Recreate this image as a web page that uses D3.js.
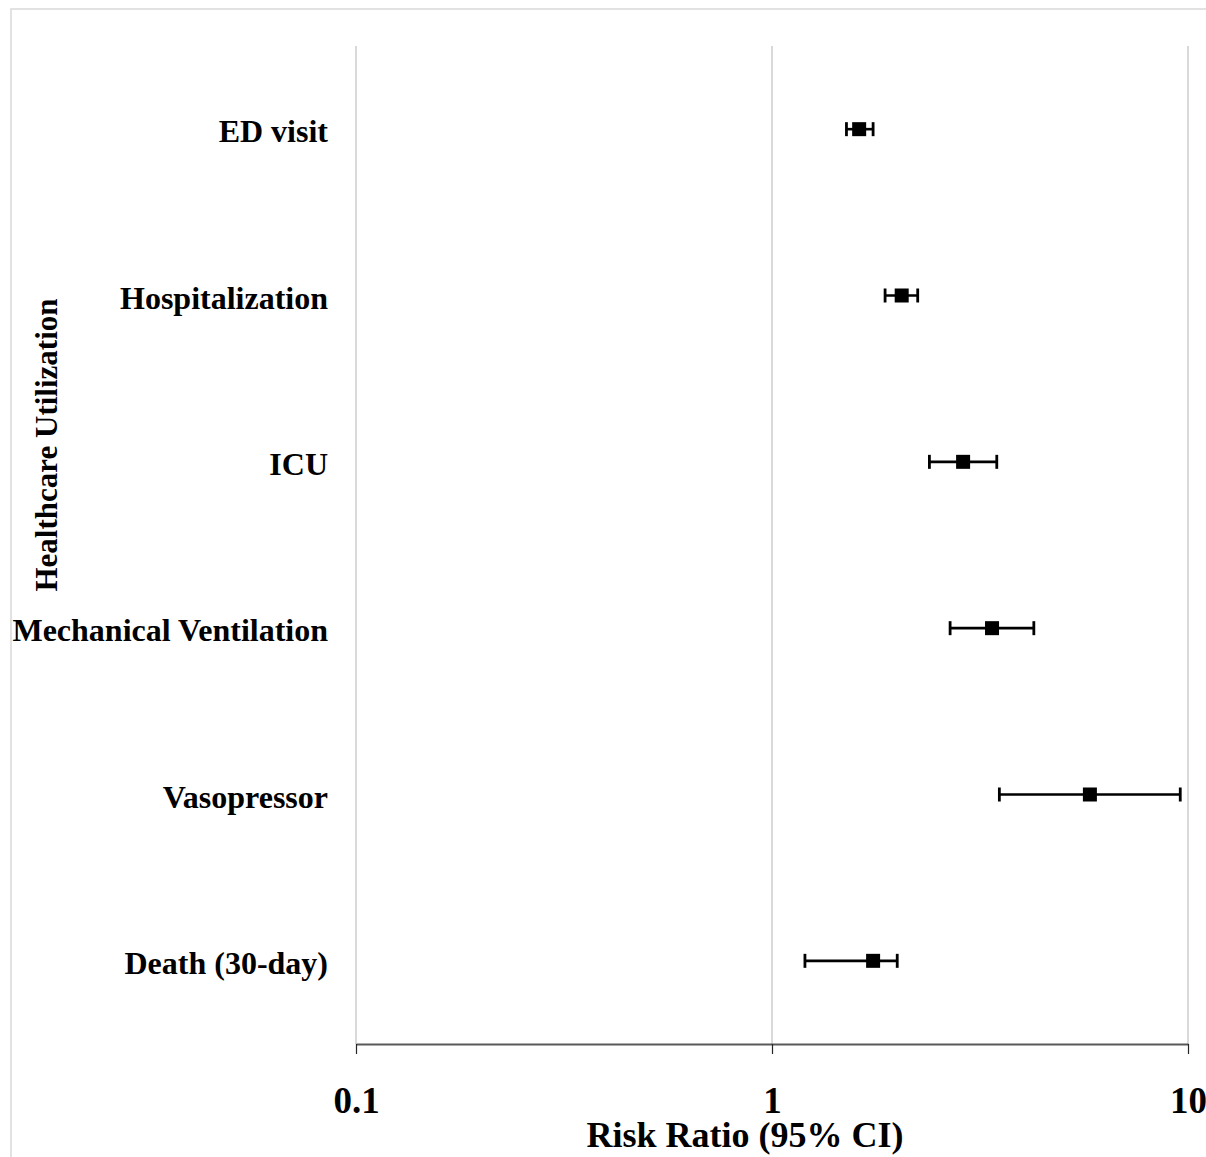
<!DOCTYPE html>
<html>
<head>
<meta charset="utf-8">
<script src="https://cdn.jsdelivr.net/npm/d3@7"></script>
<style>
  html, body { margin: 0; padding: 0; background: #fff; }
  svg { display: block; }
  text { font-family: "Liberation Serif", "Times New Roman", serif; font-weight: bold; fill: #000; }
</style>
</head>
<body>
<script>
// Outcomes and risk ratios with 95% confidence intervals
const outcomes = ["ED visit", "Hospitalization", "ICU", "Mechanical Ventilation", "Vasopressor", "Death (30-day)"];
const riskRatio = [1.62, 2.05, 2.88, 3.38, 5.81, 1.75];
const ciLower   = [1.51, 1.87, 2.39, 2.68, 3.52, 1.20];
const ciUpper   = [1.75, 2.24, 3.47, 4.26, 9.58, 2.00];
const xTicks = [0.1, 1, 10];
const xTickLabels = ["0.1", "1", "10"];

const W = 1206, H = 1157;
const plot = { left: 356, right: 1188, top: 46, bottom: 1044 };

const svg = d3.select("body").append("svg").attr("width", W).attr("height", H);

// chart frame
svg.append("rect")
  .attr("x", 11).attr("y", 9)
  .attr("width", W + 20).attr("height", H + 20)
  .attr("fill", "none").attr("stroke", "#d9d9d9").attr("stroke-width", 1.5);

const x = d3.scaleLog().domain([0.1, 10]).range([plot.left, plot.right]);
const y = d3.scalePoint().domain(outcomes).range([plot.top, plot.bottom]).padding(0.5);

// vertical gridlines
svg.append("g").selectAll("line").data(xTicks).join("line")
  .attr("x1", d => x(d)).attr("x2", d => x(d))
  .attr("y1", plot.top).attr("y2", plot.bottom)
  .attr("stroke", "#d9d9d9").attr("stroke-width", 2);

// x axis
const xAxis = d3.axisBottom(x).tickValues(xTicks).tickFormat((d, i) => xTickLabels[i]).tickSize(10).tickSizeOuter(0);
const gx = svg.append("g").attr("transform", `translate(0,${plot.bottom})`).call(xAxis);
gx.select(".domain").attr("stroke", "#595959").attr("stroke-width", 2);
gx.selectAll(".tick line").attr("stroke", "#262626").attr("stroke-width", 1.2);
gx.selectAll(".tick text")
  .attr("y", 69).attr("dy", 0)
  .style("font-family", "'Liberation Serif', 'Times New Roman', serif")
  .style("font-weight", "bold").style("font-size", "37px").attr("fill", "#000");

// x axis title
svg.append("text")
  .attr("x", 745).attr("y", 1147)
  .attr("text-anchor", "middle").style("font-size", "36px")
  .text("Risk Ratio (95% CI)");

// category labels
svg.append("g").selectAll("text").data(outcomes).join("text")
  .attr("x", 328).attr("y", d => y(d) + 13)
  .attr("text-anchor", "end").style("font-size", "32px")
  .text(d => d);

// y axis title
svg.append("text")
  .attr("transform", `translate(57,445) rotate(-90)`)
  .attr("text-anchor", "middle").style("font-size", "31px")
  .text("Healthcare Utilization");

// error bars
const rows = outcomes.map((o, i) => ({ o, rr: riskRatio[i], lo: ciLower[i], hi: ciUpper[i] }));
const bars = svg.append("g").selectAll("g").data(rows).join("g");
bars.append("line")
  .attr("x1", d => x(d.lo)).attr("x2", d => x(d.hi))
  .attr("y1", d => y(d.o)).attr("y2", d => y(d.o))
  .attr("stroke", "#000").attr("stroke-width", 2.6);
bars.append("line")
  .attr("x1", d => x(d.lo)).attr("x2", d => x(d.lo))
  .attr("y1", d => y(d.o) - 7).attr("y2", d => y(d.o) + 7)
  .attr("stroke", "#000").attr("stroke-width", 2.8);
bars.append("line")
  .attr("x1", d => x(d.hi)).attr("x2", d => x(d.hi))
  .attr("y1", d => y(d.o) - 7).attr("y2", d => y(d.o) + 7)
  .attr("stroke", "#000").attr("stroke-width", 2.8);
// point estimates
bars.append("rect")
  .attr("x", d => x(d.rr) - 7).attr("y", d => y(d.o) - 7)
  .attr("width", 14).attr("height", 14)
  .attr("fill", "#000");
</script>
</body>
</html>
